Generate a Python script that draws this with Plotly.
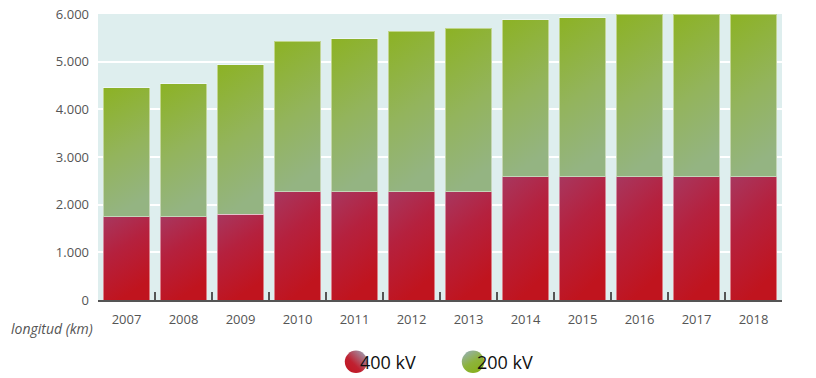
import plotly.graph_objects as go

years = ["2007", "2008", "2009", "2010", "2011", "2012", "2013", "2014", "2015", "2016", "2017", "2018"]
kv400 = [1750, 1750, 1800, 2270, 2270, 2270, 2270, 2590, 2590, 2590, 2590, 2590]
kv200 = [2700, 2790, 3140, 3160, 3210, 3370, 3430, 3290, 3330, 3400, 3400, 3400]
yticks = [0, 1000, 2000, 3000, 4000, 5000, 6000]

fig = go.Figure()
fig.add_bar(x=years, y=kv400, name="400 kV", showlegend=False,
            marker=dict(color="#b6223d", line=dict(color="rgba(255,255,255,0.45)", width=1)))
fig.add_bar(x=years, y=kv200, name="200 kV", showlegend=False,
            marker=dict(color="#91b44e", line=dict(color="rgba(255,255,255,0.45)", width=1)))
# legend entries (circles)
fig.add_scatter(x=[None], y=[None], mode="markers", name="400 kV",
                marker=dict(symbol="circle", size=16, color="#c0141e"))
fig.add_scatter(x=[None], y=[None], mode="markers", name="200 kV",
                marker=dict(symbol="circle", size=16, color="#8db32a"))

fig.update_layout(
    width=816, height=378,
    margin=dict(l=98, r=34, t=14, b=78),
    barmode="stack", bargap=0.19,
    plot_bgcolor="#deeeee", paper_bgcolor="white",
    separators=",.",
    font=dict(family="Open Sans", size=13, color="#555555"),
    showlegend=True,
    legend=dict(orientation="h", traceorder="normal", x=0.519, xanchor="center", yref="container",
                y=0.042, yanchor="middle", font=dict(size=18, color="#111111"), itemsizing="trace",
                entrywidth=72, bgcolor="rgba(0,0,0,0)"),
    xaxis=dict(type="category", showgrid=False, showline=True, linecolor="#555555", linewidth=2,
               ticks="inside", tickson="boundaries", ticklen=8, tickwidth=2, tickcolor="#555555",
               tickfont=dict(size=13, color="#555555"), range=[-0.5, 11.5], automargin=False,
               ticklabelstandoff=6),
    yaxis=dict(range=[0, 6000], tickvals=yticks, tickformat=",d", showgrid=True,
               gridcolor="white", gridwidth=2, zeroline=False, showline=False, automargin=False,
               tickfont=dict(size=13, color="#555555"), ticklabelstandoff=8),
    annotations=[dict(text="<i>longitud (km)</i>", xref="paper", yref="paper", x=-0.005, y=-0.075,
                      xanchor="right", yanchor="middle", showarrow=False, yshift=-7,
                      font=dict(size=14, color="#555555"))],
)

post = r"""
var gd = document.getElementById('{plot_id}');
var svg = gd.querySelector('svg.main-svg');
var ns = 'http://www.w3.org/2000/svg';
var defs = svg.querySelector('defs') || svg.insertBefore(document.createElementNS(ns,'defs'), svg.firstChild);
function grad(id, x1,y1,x2,y2, stops){
  var g = document.createElementNS(ns,'linearGradient');
  g.setAttribute('id', id);
  g.setAttribute('x1',x1); g.setAttribute('y1',y1); g.setAttribute('x2',x2); g.setAttribute('y2',y2);
  stops.forEach(function(s){
    var st = document.createElementNS(ns,'stop');
    st.setAttribute('offset', s[0]); st.setAttribute('stop-color', s[1]);
    g.appendChild(st);
  });
  defs.appendChild(g);
}
grad('gRed','0','0','0.35','1',[['0','#a8375f'],['0.45','#b5213e'],['1','#c0141e']]);
grad('gGreen','0','0','0.2','1',[['0','#8cb224'],['0.55','#93b45c'],['1','#94b482']]);
grad('gRedL','1','0','0','1',[['0','#98b0c4'],['0.6','#c02030'],['1','#c0141e']]);
grad('gGreenL','0','0','0.6','1',[['0','#98b0c4'],['0.6','#8db33a'],['1','#88b020']]);
var traces = gd.querySelectorAll('.barlayer .trace');
var fills = ['url(#gRed)','url(#gGreen)'];
traces.forEach(function(t,i){
  t.querySelectorAll('path').forEach(function(p){ p.style.fill = fills[i]; });
});
var items = gd.querySelectorAll('.legend .traces');
items.forEach(function(it,i){
  var tx = it.querySelector('text.legendtext');
  var name = tx ? tx.textContent : '';
  var f = name.indexOf('400') >= 0 ? 'url(#gRedL)' : 'url(#gGreenL)';
  var p = it.querySelector('.legendpoints path');
  if(p){ p.style.fill = f; p.style.stroke='none';
    var tr = p.getAttribute('transform') || '';
    p.setAttribute('transform', tr + ' scale(1.4)'); }
  if(tx){ tx.setAttribute('x', 24); it.appendChild(tx); }
});
"""

fig.write_html("out.html", post_script=post)
